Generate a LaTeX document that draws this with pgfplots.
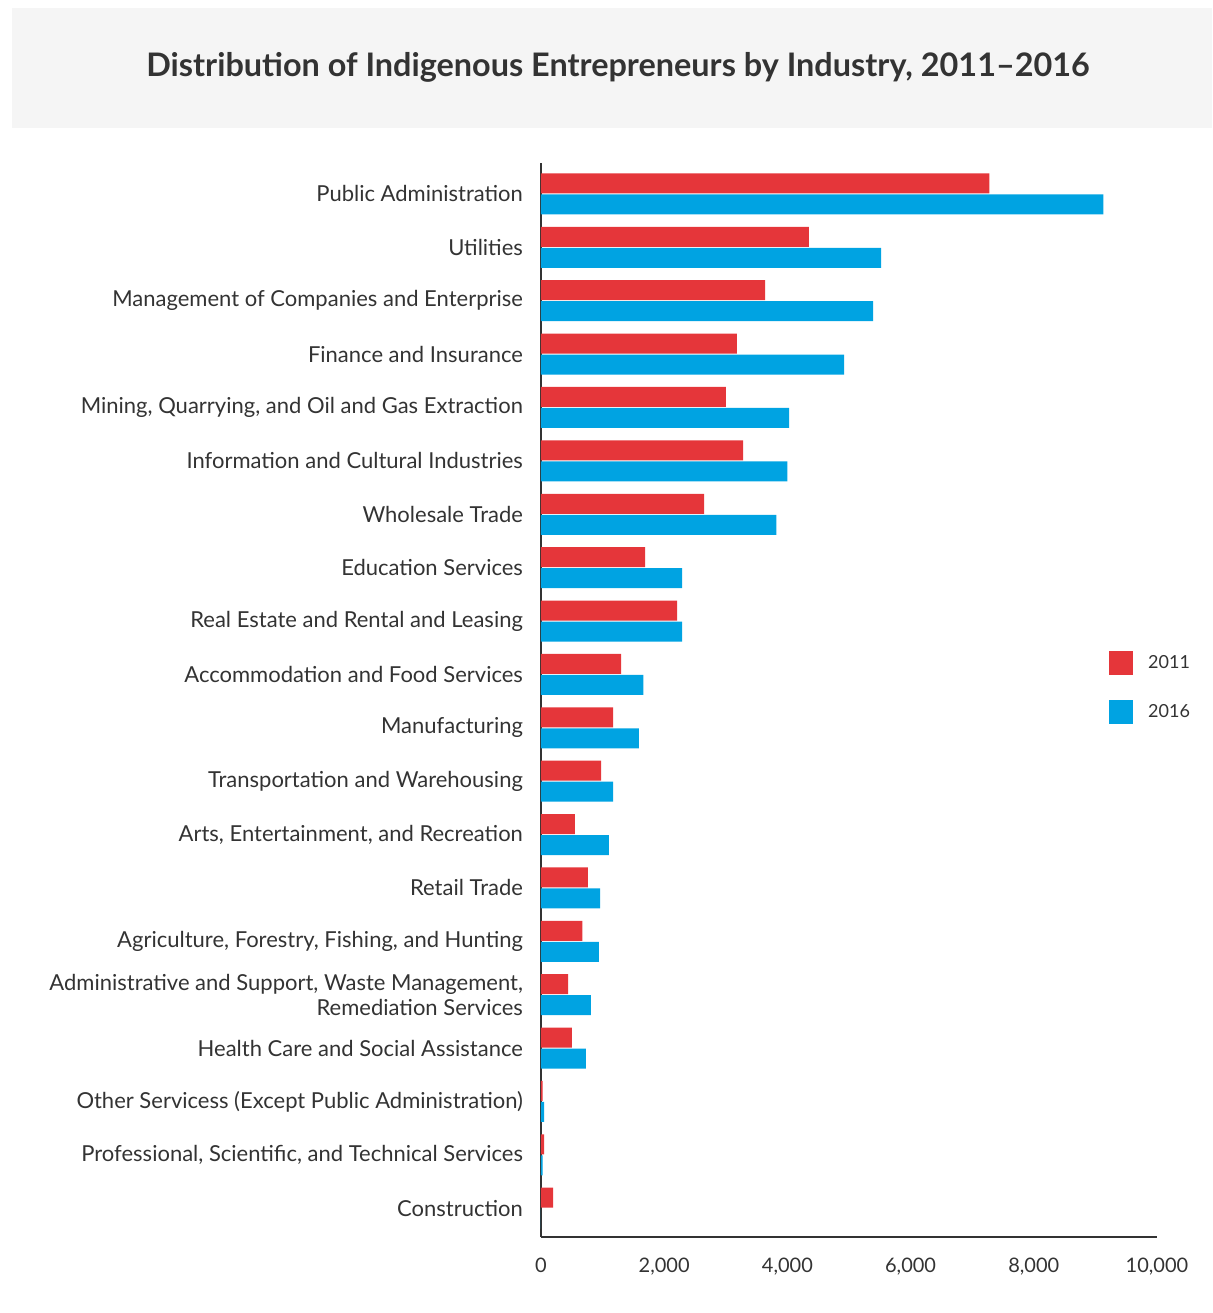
\documentclass[border=0pt]{standalone}
\usepackage{fontspec}
\setmainfont{Lato}
\usepackage{pgfplots}
\pgfplotsset{compat=1.18}
\definecolor{red11}{RGB}{229,54,58}
\definecolor{blue16}{RGB}{0,163,226}
\definecolor{txt}{RGB}{51,51,51}
\definecolor{band}{RGB}{245,245,245}

\pgfplotstableread{
idx y2011 y2016
19 7280 9130
18 4350 5520
17 3640 5390
16 3180 4920
15 3000 4030
14 3280 4000
13 2650 3820
12 1690 2290
11 2210 2290
10 1300 1660
9 1170 1590
8 975 1170
7 550 1100
6 760 960
5 670 940
4 440 810
3 500 730
2 25 50
1 50 25
0 195 0
}\industry

\begin{document}
\begin{tikzpicture}
\path[use as bounding box] (0,0) rectangle (606pt,-656.5pt);
\fill[band] (6pt,-4pt) rectangle (606pt,-64pt);
\node[font=\fontsize{16.2}{18}\selectfont\bfseries, text=txt] at (309pt,-33.5pt)
  {Distribution of Indigenous Entrepreneurs by Industry, 2011--2016};
\begin{axis}[
  at={(270.5pt,-618.5pt)}, anchor=south west,
  scale only axis, width=308pt, height=537pt,
  xbar, bar width=10pt,
  xmin=0, xmax=10000, ymin=-0.54, ymax=19.58,
  axis lines*=left,
  axis line style={-, draw=txt, line width=0.8pt},
  major tick length=0pt,
  xtick={0,2000,...,10000},
  scaled x ticks=false,
  /pgf/number format/1000 sep={,},
  /pgf/number format/assume math mode=true,
  xticklabel style={font=\fontsize{10}{12}\selectfont, text=txt, yshift=-7pt},
  ytick={0,...,19},
  yticklabels={Construction,
    {Professional, Scientific, and Technical Services},
    Other Servicess (Except Public Administration),
    Health Care and Social Assistance,
    {Administrative and Support, Waste Management,\\Remediation Services},
    {Agriculture, Forestry, Fishing, and Hunting},
    Retail Trade,
    {Arts, Entertainment, and Recreation},
    Transportation and Warehousing,
    Manufacturing,
    Accommodation and Food Services,
    Real Estate and Rental and Leasing,
    Education Services,
    Wholesale Trade,
    Information and Cultural Industries,
    {Mining, Quarrying, and Oil and Gas Extraction},
    Finance and Insurance,
    Management of Companies and Enterprise,
    Utilities,
    Public Administration},
  yticklabel style={align=right, font=\fontsize{11}{12.5}\selectfont, text=txt, xshift=-5.5pt},
  legend style={draw=none, fill=none, at={(rel axis cs:0.912,0.5495)}, anchor=north west,
    font=\fontsize{9}{11}\selectfont, text=txt, row sep=12.5pt},
  legend cell align=left,
  sq/.style={legend image code/.code={\fill[##1] (0pt,-6pt) rectangle (12pt,6pt); \path (17.5pt,0pt);}},
]
\addplot[draw=none, fill=red11, bar shift=5.25pt, sq] table[x=y2011, y=idx] {\industry};
\addplot[draw=none, fill=blue16, bar shift=-5.25pt, sq] table[x=y2016, y=idx] {\industry};
\legend{2011,2016}
\end{axis}
\end{tikzpicture}
\end{document}
